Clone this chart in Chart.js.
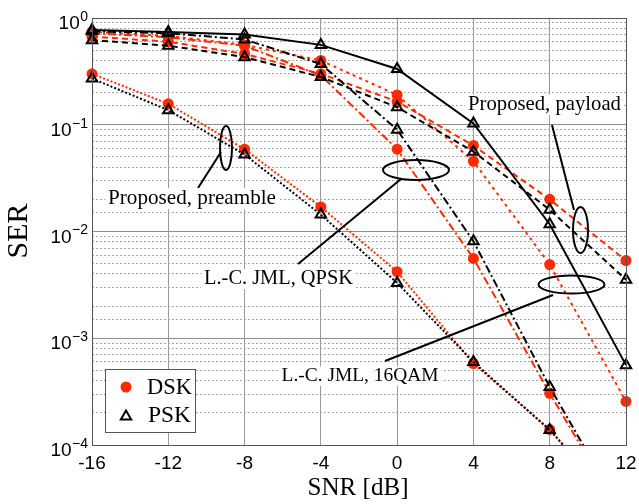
<!DOCTYPE html>
<html><head><meta charset="utf-8">
<script src="https://cdn.jsdelivr.net/npm/chart.js@4/dist/chart.umd.min.js"></script>
<style>html,body{margin:0;padding:0;background:#fff}canvas{display:block}</style>
</head><body>
<canvas id="c" width="639" height="504"></canvas>
<script>
// ---------- data ----------
const snr = [-16, -12, -8, -4, 0, 4, 8, 12];
const xTickLabels = ['-16', '-12', '-8', '-4', '0', '4', '8', '12'];
const yTickExponents = [0, -1, -2, -3, -4];

const preambleDSK = [0.30, 0.157, 0.059, 0.017, 0.0042, 5.8e-4, 1.4e-4, 2.2e-5];
const preamblePSK = [0.271, 0.137, 0.0526, 0.0144, 0.0033, 6.0e-4, 1.38e-4, 2.2e-5];
const payloadDSK = [0.67, 0.60, 0.46, 0.30, 0.165, 0.0638, 0.020, 0.00535];
const payloadPSK = [0.62, 0.55, 0.43, 0.28, 0.146, 0.056, 0.016, 0.00354];
const qpskDSK = [0.72, 0.66, 0.55, 0.29, 0.059, 0.0056, 3.05e-4, 1.9e-5];
const qpskPSK = [0.75, 0.72, 0.63, 0.37, 0.090, 0.0081, 3.5e-4, 2.0e-5];
const qam16DSK = [0.74, 0.68, 0.56, 0.40, 0.19, 0.0455, 0.0049, 2.56e-4];
const qam16PSK = [0.77, 0.74, 0.70, 0.56, 0.333, 0.103, 0.0117, 5.6e-4];

const legendLabels = ['DSK', 'PSK'];
const annotationTexts = ['Proposed, preamble', 'Proposed, payload', 'L.-C. JML, QPSK', 'L.-C. JML, 16QAM'];

// ---------- styles ----------
const RED = '#ff2a00';
const BLK = '#000000';
const SERIF = '"Liberation Serif", "Times New Roman", serif';
const SANS = '"Liberation Sans", Arial, sans-serif';

function ds(label, values, color, dash, style, order) {
  const circ = style === 'circle';
  return {
    label,
    data: snr.map((x, i) => ({ x, y: values[i] })),
    borderColor: color,
    borderWidth: 2,
    borderDash: dash,
    pointStyle: style,
    pointRadius: circ ? 5.5 : 6,
    pointBackgroundColor: circ ? color : 'rgba(0,0,0,0)',
    pointBorderColor: color,
    pointBorderWidth: circ ? 0 : 2,
    fill: false,
    tension: 0,
    order,
    clip: { left: 10, right: 10, top: 10, bottom: 0 }
  };
}

function isMajor(v) {
  const l = Math.log10(v);
  return Math.abs(l - Math.round(l)) < 1e-6;
}

function fitFont(ctx, text, family, targetW, weight) {
  ctx.font = (weight || '') + ' 20px ' + family;
  const w = ctx.measureText(text).width;
  const size = 20 * targetW / w;
  ctx.font = (weight || '') + ' ' + size.toFixed(2) + 'px ' + family;
  return size;
}

function drawTriangle(ctx, x, y, r) {
  ctx.beginPath();
  for (let k = 0; k < 3; k++) {
    const a = k * 2 * Math.PI / 3;
    const px = x + Math.sin(a) * r, py = y - Math.cos(a) * r;
    if (k === 0) ctx.moveTo(px, py); else ctx.lineTo(px, py);
  }
  ctx.closePath();
  ctx.stroke();
}

const overlay = {
  id: 'overlay',
  afterDatasetsDraw(chart) {
    const ctx = chart.ctx, a = chart.chartArea;
    const xs = chart.scales.x, ys = chart.scales.y;
    ctx.save();

    // annotation ellipses and pointer lines
    ctx.strokeStyle = '#000';
    ctx.lineWidth = 2;
    const ell = (cx, cy, rx, ry) => { ctx.beginPath(); ctx.ellipse(cx, cy, rx, ry, 0, 0, 2 * Math.PI); ctx.stroke(); };
    const seg = (x1, y1, x2, y2) => { ctx.beginPath(); ctx.moveTo(x1, y1); ctx.lineTo(x2, y2); ctx.stroke(); };
    ell(226, 148, 6, 22);    seg(221, 152, 198, 188);
    ell(580.5, 230, 7.5, 23); seg(552, 125, 574, 210);
    ell(416, 170, 33, 10);   seg(401, 179, 298, 264);
    ell(571.5, 284.5, 33, 9); seg(553, 295, 385, 361);

    // annotation texts with white background
    const texts = [
      { t: annotationTexts[0], cx: 192, base: 204, w: 168 },
      { t: annotationTexts[1], cx: 544.5, base: 110, w: 153 },
      { t: annotationTexts[2], cx: 278.5, base: 284, w: 149 },
      { t: annotationTexts[3], cx: 360, base: 381, w: 157 }
    ];
    texts.forEach(o => {
      const s = fitFont(ctx, o.t, SERIF, o.w);
      ctx.fillStyle = '#fff';
      ctx.fillRect(o.cx - o.w / 2 - 3, o.base - s * 0.75, o.w + 6, s * 1.0);
      ctx.fillStyle = '#000';
      ctx.textAlign = 'center';
      ctx.textBaseline = 'alphabetic';
      ctx.fillText(o.t, o.cx, o.base);
    });

    // frame
    ctx.strokeStyle = '#555';
    ctx.lineWidth = 1;
    ctx.strokeRect(Math.round(a.left) + 0.5, Math.round(a.top) + 0.5,
      Math.round(a.right) - Math.round(a.left), Math.round(a.bottom) - Math.round(a.top));

    // legend
    ctx.fillStyle = '#fff';
    ctx.fillRect(105.5, 369.5, 90, 63);
    ctx.strokeStyle = '#555';
    ctx.lineWidth = 1;
    ctx.strokeRect(105.5, 369.5, 90, 63);
    ctx.fillStyle = RED;
    ctx.beginPath(); ctx.arc(126, 387, 5.5, 0, 2 * Math.PI); ctx.fill();
    ctx.strokeStyle = '#000'; ctx.lineWidth = 2;
    drawTriangle(ctx, 126, 416.5, 6);
    ctx.fillStyle = '#000';
    ctx.textAlign = 'left';
    ctx.textBaseline = 'alphabetic';
    fitFont(ctx, legendLabels[0], SERIF, 45);
    ctx.fillText(legendLabels[0], 147, 393.5);
    fitFont(ctx, legendLabels[1], SERIF, 43);
    ctx.fillText(legendLabels[1], 148, 422);

    // x tick labels
    ctx.font = '19px ' + SANS;
    ctx.textAlign = 'center';
    ctx.textBaseline = 'middle';
    snr.forEach((v, i) => {
      ctx.fillText(xTickLabels[i], xs.getPixelForValue(v), 464);
    });

    // y tick labels 10^k
    yTickExponents.forEach(e => {
      const y = ys.getPixelForValue(Math.pow(10, e));
      const expTxt = e < 0 ? '\u2212' + (-e) : String(e);
      ctx.font = '14px ' + SANS;
      ctx.textAlign = 'right';
      ctx.textBaseline = 'middle';
      const ew = ctx.measureText(expTxt).width;
      ctx.fillText(expTxt, 88, y - 1);
      ctx.font = '19px ' + SANS;
      ctx.fillText('10', 88 - ew - 0.5, y + 6);
    });

    // axis titles
    ctx.textAlign = 'center';
    ctx.textBaseline = 'alphabetic';
    fitFont(ctx, 'SNR [dB]', SERIF, 101);
    ctx.fillText('SNR [dB]', 358, 495);
    ctx.save();
    ctx.translate(27, 231);
    ctx.rotate(-Math.PI / 2);
    fitFont(ctx, 'SER', SERIF, 55);
    ctx.fillText('SER', 0, 0);
    ctx.restore();

    ctx.restore();
  }
};

new Chart(document.getElementById('c'), {
  type: 'line',
  data: {
    datasets: [
      ds('Proposed, preamble PSK', preamblePSK, BLK, [2, 2], 'triangle', 0),
      ds('Proposed, payload PSK', payloadPSK, BLK, [6, 4], 'triangle', 0),
      ds('L.-C. JML, QPSK PSK', qpskPSK, BLK, [8, 3, 2, 3], 'triangle', 0),
      ds('L.-C. JML, 16QAM PSK', qam16PSK, BLK, [], 'triangle', 0),
      ds('Proposed, preamble DSK', preambleDSK, RED, [2, 2], 'circle', 1),
      ds('Proposed, payload DSK', payloadDSK, RED, [6, 4], 'circle', 1),
      ds('L.-C. JML, QPSK DSK', qpskDSK, RED, [8, 3, 2, 3], 'circle', 1),
      ds('L.-C. JML, 16QAM DSK', qam16DSK, RED, [3, 4], 'circle', 1)
    ]
  },
  options: {
    responsive: false,
    devicePixelRatio: 1,
    animation: false,
    events: [],
    layout: { padding: { left: 92, top: 18, right: 13, bottom: 59 } },
    plugins: { legend: { display: false }, tooltip: { enabled: false } },
    scales: {
      x: {
        type: 'linear',
        min: -16, max: 12,
        ticks: { display: false, stepSize: 4 },
        grid: { drawTicks: false, color: '#9a9a9a', lineWidth: 1 },
        border: { display: false }
      },
      y: {
        type: 'logarithmic',
        min: 1e-4, max: 1,
        ticks: { display: false },
        grid: {
          drawTicks: false,
          lineWidth: 1,
          color: c => (c.tick && isMajor(c.tick.value)) ? '#8f8f8f' : '#a9a9a9'
        },
        border: {
          display: false,
          dash: c => (c.tick && !isMajor(c.tick.value)) ? [2, 2] : []
        }
      }
    }
  },
  plugins: [overlay]
});
</script>
</body></html>
